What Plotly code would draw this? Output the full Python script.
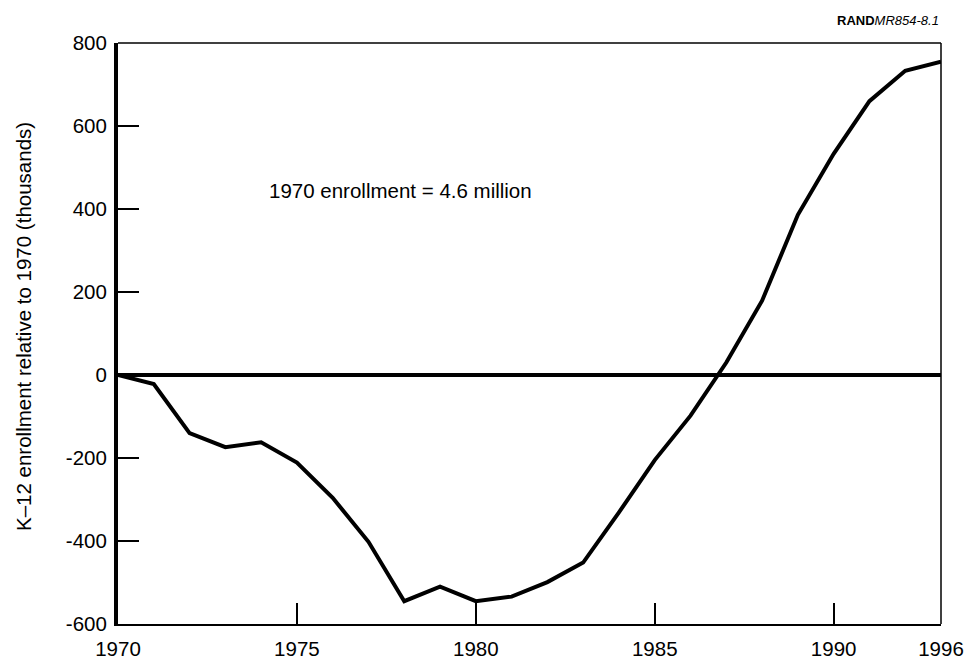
import plotly.graph_objects as go

years = list(range(1970, 1994))
enroll_change = [0, -22, -140, -174, -162, -211, -296, -402, -545, -510,
                 -545, -534, -499, -452, -331, -205, -98, 30, 179, 386,
                 533, 660, 733, 755]

x_tick_vals = [1970, 1975, 1980, 1985, 1990, 1993]
x_tick_text = ["1970", "1975", "1980", "1985", "1990", "1996"]
y_tick_vals = [-600, -400, -200, 0, 200, 400, 600, 800]
y_tick_text = ["-600", "-400", "-200", "0", "200", "400", "600", "800"]

y_title = "K\u201312 enrollment relative to 1970 (thousands)"
note_text = "1970 enrollment = 4.6 million"
source_text = "<b>RAND</b><i>MR854-8.1</i>"

W, H = 968, 659
L, R, T, B = 118, 27, 43, 35
pw = W - L - R
ph = H - T - B

fig = go.Figure()
fig.add_trace(go.Scatter(x=years, y=enroll_change, mode="lines",
                         line=dict(color="black", width=4),
                         hoverinfo="skip", showlegend=False))

font = "Liberation Sans, Arial, Helvetica, sans-serif"

fig.update_layout(
    width=W, height=H,
    margin=dict(l=L, r=R, t=T, b=B, pad=0, autoexpand=False),
    paper_bgcolor="white", plot_bgcolor="white",
    font=dict(family=font, size=20.5, color="black"),
    xaxis=dict(range=[1970, 1993], tickvals=x_tick_vals, ticktext=x_tick_text,
               ticks="inside", ticklen=21, tickwidth=1.6, tickcolor="black",
               showgrid=False, zeroline=False, showline=True, linecolor="black",
               linewidth=2, ticklabelstandoff=5, automargin=False,
               fixedrange=True),
    yaxis=dict(range=[-600, 800], tickvals=y_tick_vals, ticktext=y_tick_text,
               ticks="inside", ticklen=21, tickwidth=1.6, tickcolor="black",
               showgrid=False, zeroline=True, zerolinecolor="black",
               zerolinewidth=3.5, showline=True, linecolor="black",
               linewidth=4, ticklabelstandoff=3, automargin=False,
               fixedrange=True),
    shapes=[
        dict(type="line", xref="paper", yref="paper", x0=0, x1=1, y0=1, y1=1,
             line=dict(color="black", width=1.5)),
        dict(type="line", xref="paper", yref="paper", x0=1, x1=1, y0=0, y1=1,
             line=dict(color="black", width=1.5)),
    ],
    annotations=[
        dict(text=y_title, xref="paper", yref="paper",
             x=(23 - L) / pw, y=(H - B - 327) / ph, textangle=-90,
             showarrow=False, xanchor="center", yanchor="middle",
             font=dict(size=20.5)),
        dict(text=note_text, xref="x", yref="y", x=1977.9, y=444,
             showarrow=False, xanchor="center", yanchor="middle",
             font=dict(size=20.5)),
        dict(text=source_text, xref="paper", yref="paper", x=1.0,
             y=(H - 20 - B) / ph, showarrow=False, xanchor="right",
             yanchor="middle", font=dict(size=13)),
    ],
)

fig.write_html("out.html",
               config={"displayModeBar": False},
               post_script="document.body.style.margin='0';")
